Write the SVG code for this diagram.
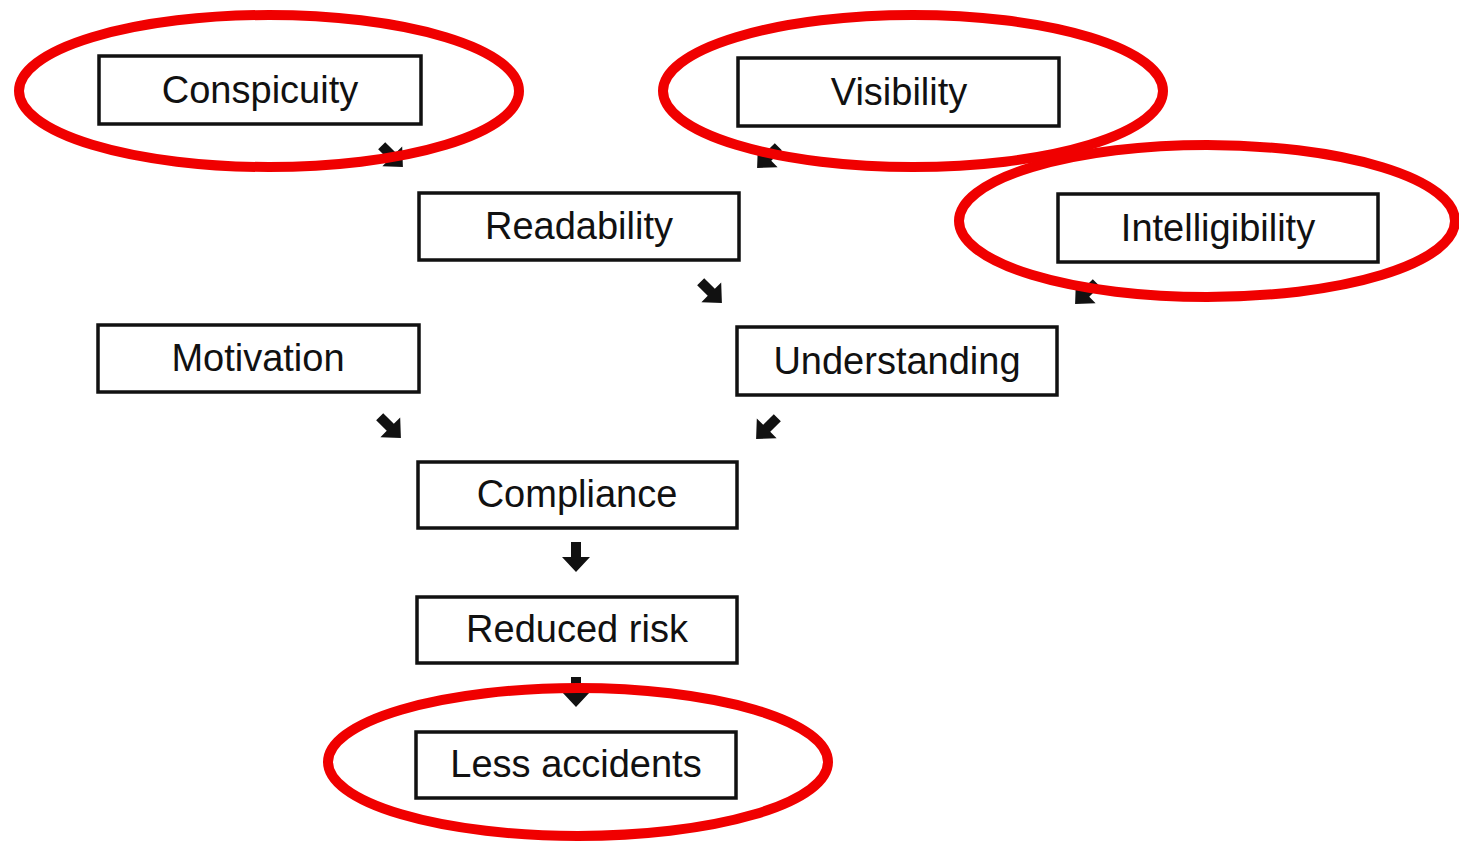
<svg xmlns="http://www.w3.org/2000/svg" width="1459" height="843" viewBox="0 0 1459 843">
<style>
.box{fill:#fff;stroke:#111;stroke-width:3.5}
.lbl{font-family:"Liberation Sans",Arial,sans-serif;font-size:38px;fill:#111;text-anchor:middle;dominant-baseline:central}
.ring{fill:none;stroke:#f00000;stroke-width:10}
.arr{fill:#111}
</style>
<defs>
<path id="ar" d="M-5,-16 L5,-16 L5,-1 L14,-1 L0,14 L-14,-1 L-5,-1 Z"/>
</defs>
<rect width="1459" height="843" fill="#fff"/>
<g id="n-conspicuity"><rect class="box" x="99" y="56" width="322" height="68"/><text class="lbl" x="260" y="90">Conspicuity</text></g>
<g id="n-visibility"><rect class="box" x="738" y="58" width="321" height="68"/><text class="lbl" x="899" y="92">Visibility</text></g>
<g id="n-readability"><rect class="box" x="419" y="193" width="320" height="67"/><text class="lbl" x="579" y="226">Readability</text></g>
<g id="n-intelligibility"><rect class="box" x="1058" y="194" width="320" height="68"/><text class="lbl" x="1218" y="228">Intelligibility</text></g>
<g id="n-motivation"><rect class="box" x="98" y="325" width="321" height="67"/><text class="lbl" x="258" y="358">Motivation</text></g>
<g id="n-understanding"><rect class="box" x="737" y="327" width="320" height="68"/><text class="lbl" x="897" y="361">Understanding</text></g>
<g id="n-compliance"><rect class="box" x="418" y="462" width="319" height="66"/><text class="lbl" x="577" y="494">Compliance</text></g>
<g id="n-reduced"><rect class="box" x="417" y="597" width="320" height="66"/><text class="lbl" x="577" y="629">Reduced risk</text></g>
<g id="n-less"><rect class="box" x="416" y="732" width="320" height="66"/><text class="lbl" x="576" y="764">Less accidents</text></g>
<g id="connectors" class="arr">
<use href="#ar" transform="translate(393,157) rotate(-45)"/>
<use href="#ar" transform="translate(767,158) rotate(45)"/>
<use href="#ar" transform="translate(712,293) rotate(-45)"/>
<use href="#ar" transform="translate(1085,294) rotate(45)"/>
<use href="#ar" transform="translate(391,428) rotate(-45)"/>
<use href="#ar" transform="translate(766,429) rotate(45)"/>
<use href="#ar" transform="translate(576,558)"/>
<use href="#ar" transform="translate(576,693)"/>
</g>
<g id="highlights">
<ellipse class="ring" cx="269" cy="91" rx="250" ry="76"/>
<ellipse class="ring" cx="913" cy="91" rx="250" ry="76"/>
<ellipse class="ring" cx="1207" cy="221" rx="248" ry="76"/>
<ellipse class="ring" cx="578" cy="762" rx="250" ry="74"/>
</g>
</svg>
